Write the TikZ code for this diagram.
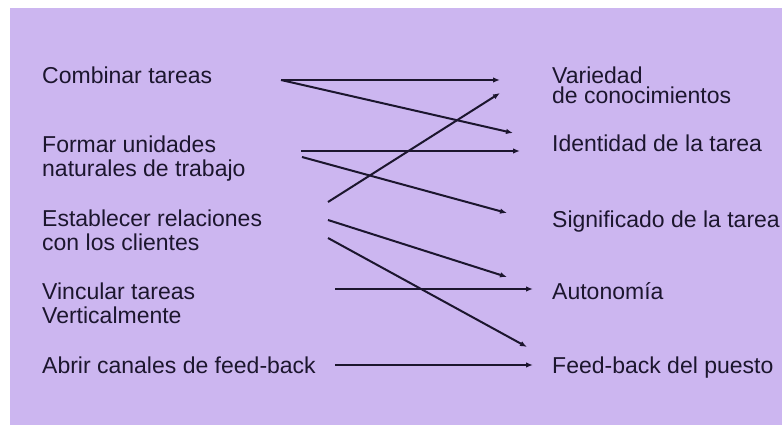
\documentclass[tikz,border=0pt]{standalone}
\usepackage{fontspec}
\setmainfont{Liberation Sans}
\usetikzlibrary{arrows.meta}
\definecolor{lav}{RGB}{204,182,240}
\definecolor{ink}{RGB}{28,22,46}
\begin{document}
\begin{tikzpicture}[x=1pt,y=-1pt,
  lbl/.style={anchor=base west,inner sep=0pt,text=ink,align=left,
    font=\fontsize{23}{24}\selectfont},
  conn/.style={draw=ink,line width=2pt,-{Latex[length=7pt,width=5.5pt]}}]
\useasboundingbox (0,0) rectangle (782,425);
\fill[lav] (10,8) rectangle (782,425);
% left column (base = baseline of the last line)
\node[lbl] (comb) at (42,84) {Combinar tareas};
\node[lbl] (form) at (42,176) {Formar unidades\\naturales de trabajo};
\node[lbl] (estab) at (42,250) {Establecer relaciones\\con los clientes};
\node[lbl] (vinc) at (42,323) {Vincular tareas\\Verticalmente};
\node[lbl] (abrir) at (42,373) {Abrir canales de feed-back};
% right column
\node[lbl,font=\fontsize{23}{20}\selectfont] (var) at (552,104) {Variedad\\de conocimientos};
\node[lbl] (ident) at (552,152) {Identidad de la tarea};
\node[lbl] (sig) at (552,227) {Significado de la tarea};
\node[lbl] (auto) at (552,299) {Autonomía};
\node[lbl] (feed) at (552,373) {Feed-back del puesto};
% connector end points
\coordinate (c1) at (281,80);
\coordinate (f1) at (301,151);
\coordinate (f2) at (302,157);
\coordinate (e1) at (328,202);
\coordinate (e2) at (328,220);
\coordinate (e3) at (328,238);
\coordinate (v1) at (335,289);
\coordinate (a1) at (335,365);
\coordinate (tvar1) at (500,80);
\coordinate (tvar2) at (500,93);
\coordinate (tid1) at (513,133);
\coordinate (tid2) at (520,151);
\coordinate (tsig) at (507,213);
\coordinate (taut1) at (507,277);
\coordinate (taut2) at (533,289);
\coordinate (tfb1) at (527,347);
\coordinate (tfb2) at (533,365);
% connectors
\draw[conn] (c1) -- (tvar1);
\draw[conn] (c1) -- (tid1);
\draw[conn] (f1) -- (tid2);
\draw[conn] (f2) -- (tsig);
\draw[conn] (e1) -- (tvar2);
\draw[conn] (e2) -- (taut1);
\draw[conn] (e3) -- (tfb1);
\draw[conn] (v1) -- (taut2);
\draw[conn] (a1) -- (tfb2);
\end{tikzpicture}
\end{document}
